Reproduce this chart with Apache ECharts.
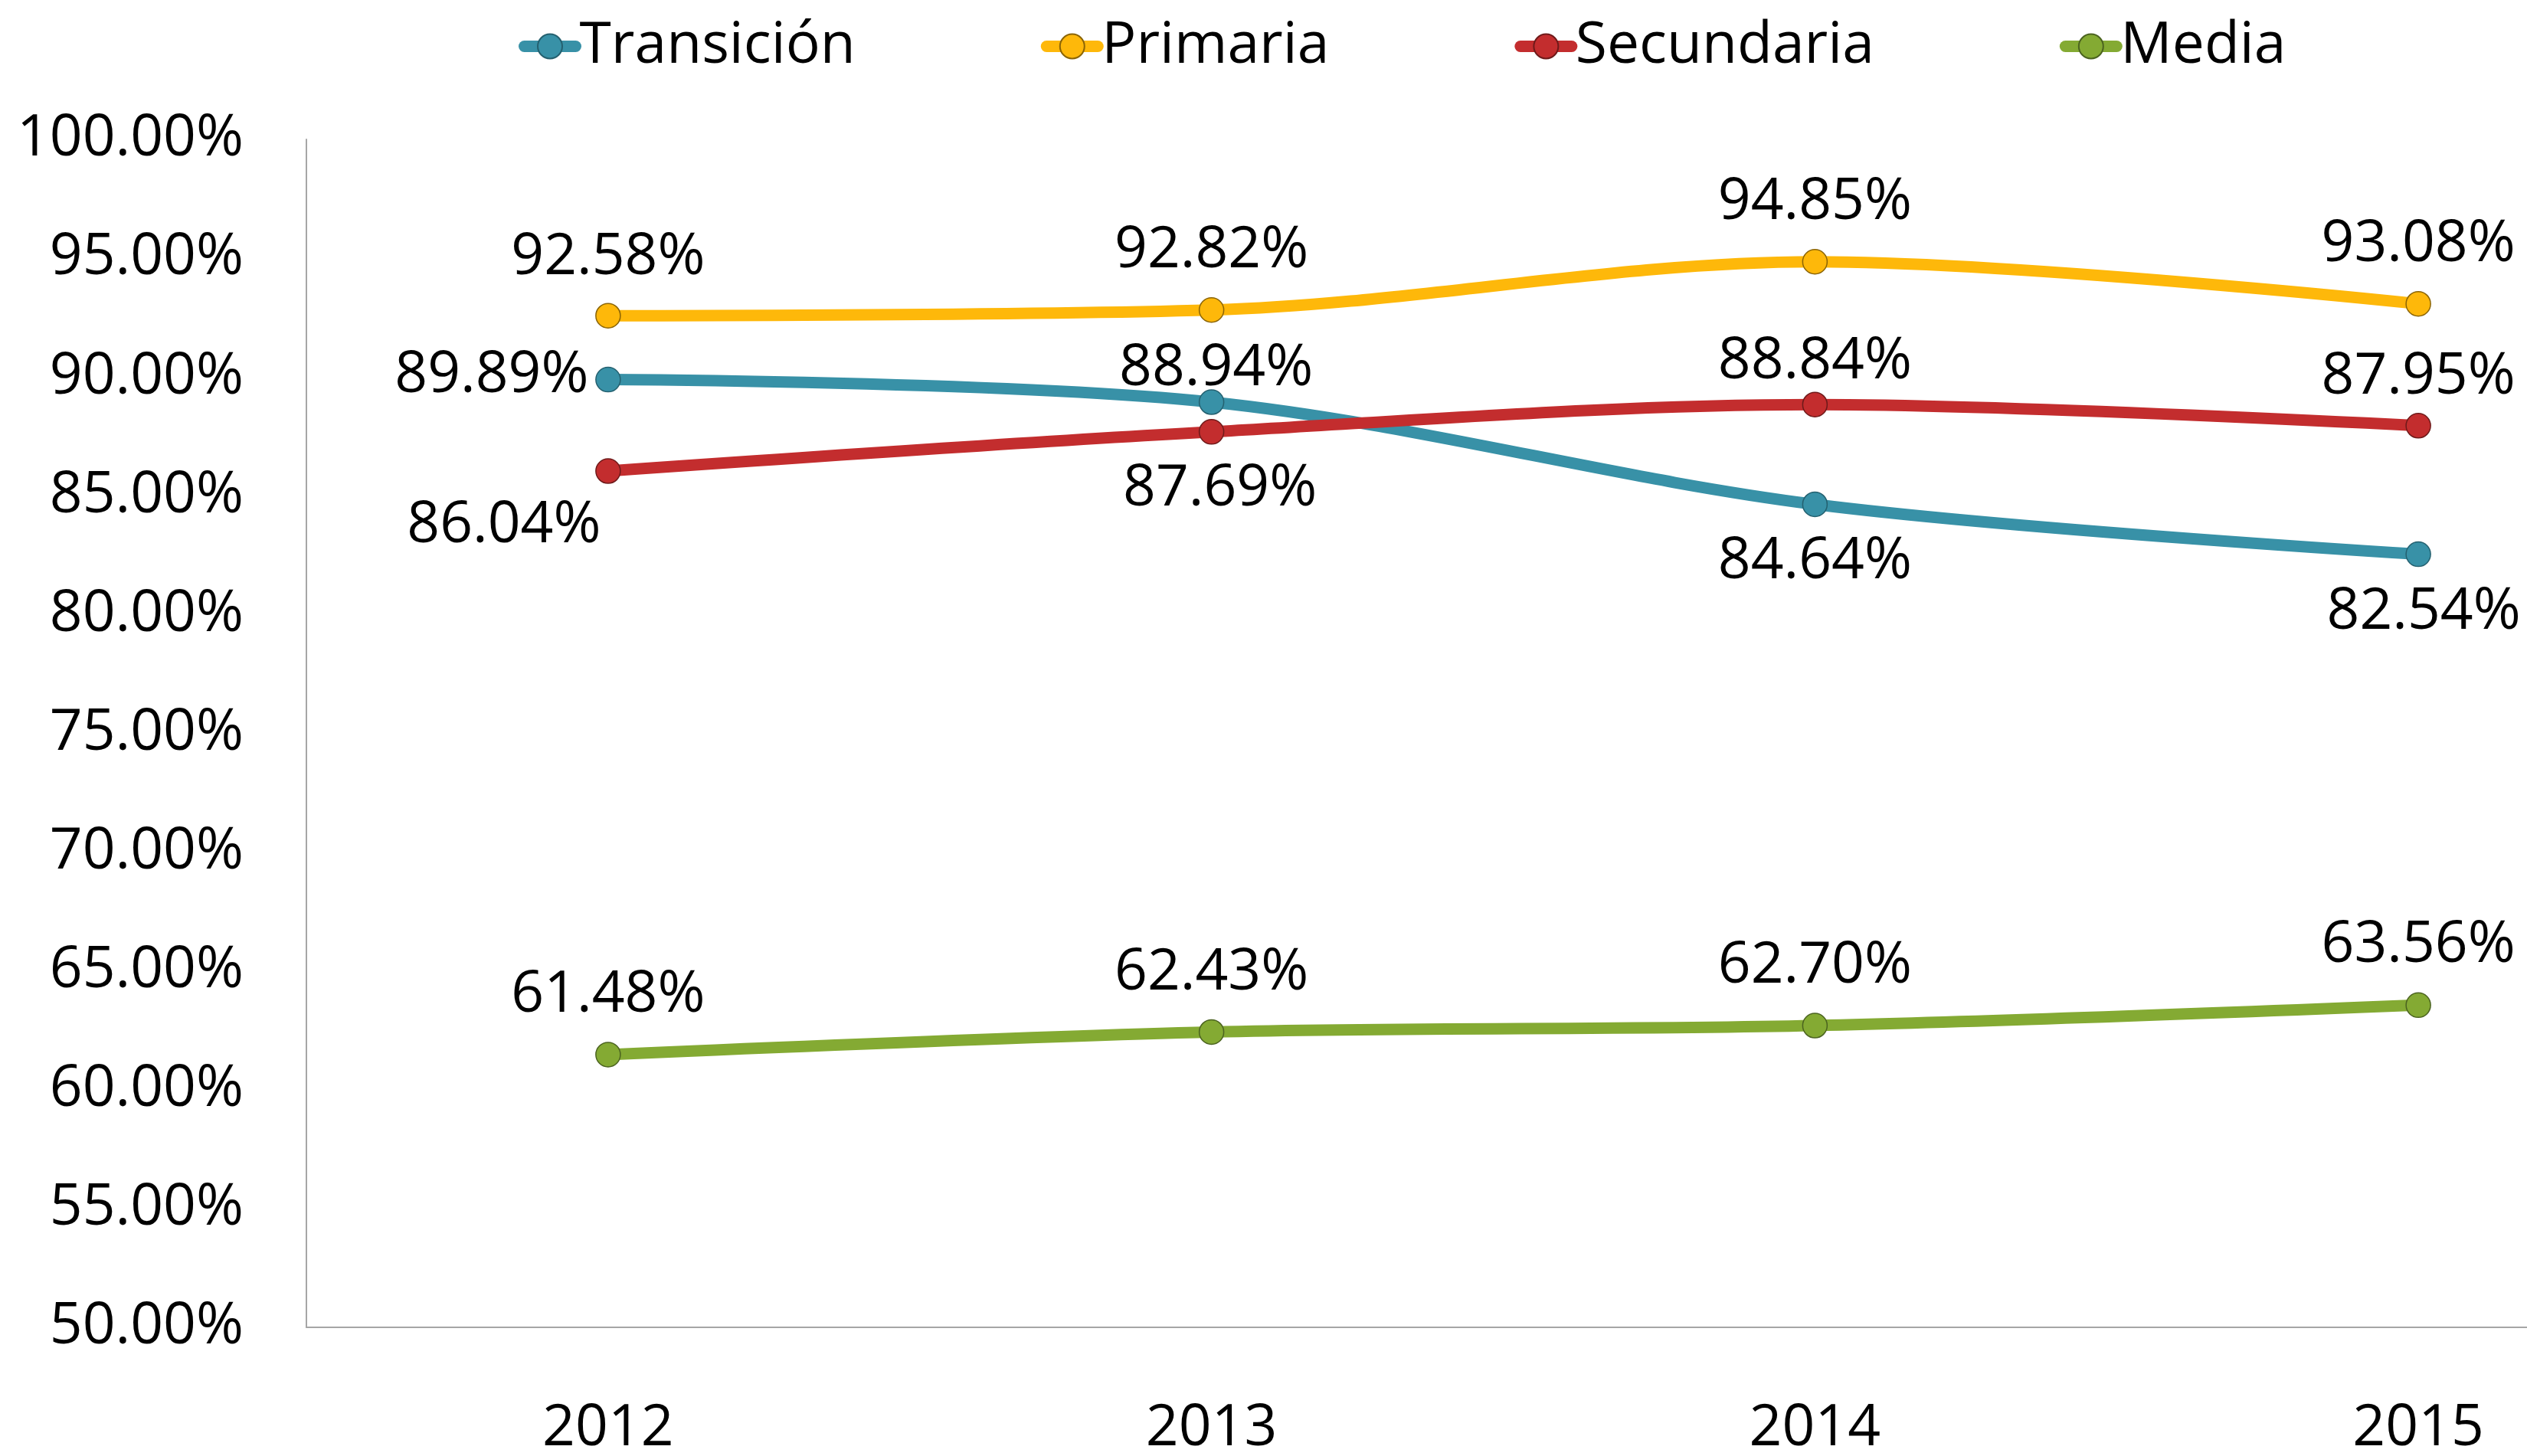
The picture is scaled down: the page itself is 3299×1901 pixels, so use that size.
<!DOCTYPE html>
<html>
<head>
<meta charset="utf-8">
<script src="https://cdn.jsdelivr.net/npm/echarts@6/dist/echarts.min.js"></script>
<style>
html,body{margin:0;padding:0;background:#fff;}
#chart{width:3299px;height:1901px;}
</style>
</head>
<body>
<div id="chart"></div>
<script>
// ---- data ----
const categories = ['2012', '2013', '2014', '2015'];
const seriesNames = ['Transición', 'Primaria', 'Secundaria', 'Media'];
const transicion = [89.89, 88.94, 84.64, 82.54];
const primaria   = [92.58, 92.82, 94.85, 93.08];
const secundaria = [86.04, 87.69, 88.84, 87.95];
const media      = [61.48, 62.43, 62.70, 63.56];
const yMin = 50, yMax = 100, yStep = 5;

// ---- styles ----
const FONT = 'Open Sans';
const FS = 75;
const colors = ['#3891A7', '#FEB80A', '#C32D2E', '#84AA33'];
const borders = ['#24606F', '#8A6406', '#6E1A1A', '#4B6320'];
// label offsets [dx, dy] from each point's centre
const labelOffsets = [
  [[-152, -5], [6, -43], [0, 75], [7, 76]],
  [[0, -76], [0, -77], [0, -77], [0, -77]],
  [[-136, 72], [11, 75], [0, -56], [0, -63]],
  [[0, -77], [0, -77], [0, -77], [0, -78]]
];
const allValues = [transicion, primaria, secundaria, media];

const chart = echarts.init(document.getElementById('chart'), null, {renderer: 'canvas'});

function pct(v) { return v.toFixed(2) + '%'; }

const series = allValues.map((vals, si) => ({
  name: seriesNames[si],
  type: 'line',
  smooth: 0.33,
  symbol: 'circle',
  symbolSize: 32,
  lineStyle: {width: 15, color: colors[si], cap: 'round'},
  itemStyle: {color: colors[si], borderColor: borders[si], borderWidth: 1.5},
  emphasis: {disabled: true},
  data: vals.map((v, i) => ({
    value: v,
    label: {
      show: true,
      position: 'inside',
      offset: labelOffsets[si][i],
      align: 'center',
      verticalAlign: 'middle',
      formatter: p => pct(p.value),
      fontFamily: FONT,
      fontSize: FS,
      color: '#000'
    }
  }))
}));

chart.setOption({
  animation: false,
  backgroundColor: '#fff',
  textStyle: {fontFamily: FONT},
  legend: {
    data: seriesNames,
    left: 672,
    top: 18,
    itemWidth: 67,
    itemHeight: 40,
    itemGap: 242,
    lineStyle: {width: 15, cap: 'round'},
    textStyle: {fontFamily: FONT, fontSize: FS, color: '#000'}
  },
  grid: {
    left: 400,
    right: -252,
    top: 182,
    bottom: 168,
    containLabel: false,
    outerBoundsMode: 'none'
  },
  xAxis: {
    type: 'category',
    data: categories,
    boundaryGap: true,
    axisLine: {show: true, lineStyle: {color: '#A6A6A6', width: 2}},
    axisTick: {show: false},
    axisLabel: {fontFamily: FONT, fontSize: FS, color: '#000', margin: 95},
    splitLine: {show: false}
  },
  yAxis: {
    type: 'value',
    min: yMin,
    max: yMax,
    interval: yStep,
    axisLine: {show: true, lineStyle: {color: '#A6A6A6', width: 2}},
    axisTick: {show: false},
    splitLine: {show: false},
    axisLabel: {fontFamily: FONT, fontSize: FS, color: '#000', margin: 82, formatter: v => pct(v)}
  },
  series: series
});
</script>
</body>
</html>
